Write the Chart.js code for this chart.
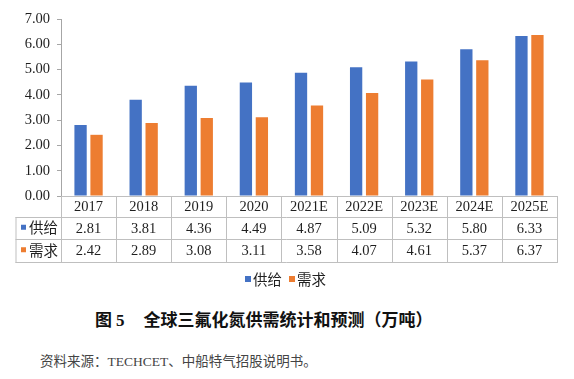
<!DOCTYPE html>
<html>
<head>
<meta charset="utf-8">
<script src="https://cdn.jsdelivr.net/npm/chart.js@4"></script>
<style>
  html, body { margin: 0; padding: 0; background: #fff; }
  #wrap { position: relative; width: 574px; height: 379px; overflow: hidden; }
  #c { position: absolute; left: 0; top: 0; }
  .title { position: absolute; left: 95px; top: 306px; font: bold 17px "Liberation Serif", "Noto Sans CJK SC", serif; color: #111; white-space: nowrap; }
  .title .num { margin-left: 4px; margin-right: 19px; }
  .src { position: absolute; left: 40px; top: 350px; font: 13.5px "Liberation Serif", "Noto Sans CJK SC", serif; color: #444; white-space: nowrap; }
</style>
</head>
<body>
<div id="wrap">
  <canvas id="c" width="574" height="300"></canvas>
  <div class="title">图<span class="num">5</span>全球三氟化氮供需统计和预测（万吨）</div>
  <div class="src">资料来源：TECHCET、中船特气招股说明书。</div>
</div>
<script>
const categories = ['2017', '2018', '2019', '2020', '2021E', '2022E', '2023E', '2024E', '2025E'];
const supply = [2.81, 3.81, 4.36, 4.49, 4.87, 5.09, 5.32, 5.80, 6.33];
const demand = [2.42, 2.89, 3.08, 3.11, 3.58, 4.07, 4.61, 5.37, 6.37];
const seriesNames = ['供给', '需求'];
const colors = ['#4472C4', '#ED7D31'];

const numFont = '14.5px "Liberation Serif", serif';
const cjkFont = '14.5px "Noto Sans CJK SC", sans-serif';
const lineColor = '#bfbfbf';
const textColor = '#1f1f1f';

// 表格 + 图例画在坐标轴下面
const tablePlugin = {
    id: 'dataTable',
    afterDraw(chart) {
        const ctx = chart.ctx;
        const xs = chart.scales.x;
        const n = categories.length;
        const w = (xs.right - xs.left) / n;
        const y0 = chart.chartArea.bottom;
        const y1 = y0 + 20.5;
        const y2 = y1 + 22.5;
        const y3 = y2 + 22.5;
        const tLeft = 15.5;

        ctx.save();
        ctx.strokeStyle = lineColor;
        ctx.lineWidth = 1;
        ctx.beginPath();
        [y1, y2, y3].forEach((y) => {
            ctx.moveTo(tLeft, Math.round(y) + 0.5);
            ctx.lineTo(xs.right, Math.round(y) + 0.5);
        });
        ctx.moveTo(tLeft + 0.5, Math.round(y1));
        ctx.lineTo(tLeft + 0.5, Math.round(y3) + 1);
        for (let k = 0; k <= n; k++) {
            const x = Math.round(xs.left + k * w) + 0.5;
            ctx.moveTo(x, y0);
            ctx.lineTo(x, Math.round(y3) + 1);
        }
        ctx.stroke();

        ctx.fillStyle = textColor;
        ctx.textAlign = 'center';
        ctx.textBaseline = 'middle';
        ctx.font = numFont;
        categories.forEach((c, i) => {
            const cx = xs.getPixelForValue(i);
            ctx.fillText(c, cx, (y0 + y1) / 2 + 1);
            ctx.fillText(supply[i].toFixed(2), cx, (y1 + y2) / 2 + 1);
            ctx.fillText(demand[i].toFixed(2), cx, (y2 + y3) / 2 + 1);
        });

        // 行标题
        ctx.textAlign = 'left';
        ctx.font = cjkFont;
        [(y1 + y2) / 2, (y2 + y3) / 2].forEach((cy, r) => {
            ctx.fillStyle = colors[r];
            ctx.fillRect(21, cy - 3, 5, 5);
            ctx.fillStyle = textColor;
            ctx.fillText(seriesNames[r], 29, cy);
        });

        // 图例
        const ly = 279;
        const lx = [245, 289];
        lx.forEach((x, r) => {
            ctx.fillStyle = colors[r];
            ctx.fillRect(x, ly - 3, 6, 6);
            ctx.fillStyle = textColor;
            ctx.fillText(seriesNames[r], x + 8, ly);
        });
        ctx.restore();
    }
};

new Chart(document.getElementById('c'), {
    type: 'bar',
    data: {
        labels: categories,
        datasets: [{
            label: seriesNames[0],
            data: supply,
            backgroundColor: colors[0],
            categoryPercentage: 0.58,
            barPercentage: 0.77,
        }, {
            label: seriesNames[1],
            data: demand,
            backgroundColor: colors[1],
            categoryPercentage: 0.58,
            barPercentage: 0.77,
        }],
    },
    options: {
        responsive: false,
        animation: false,
        devicePixelRatio: 1,
        layout: { padding: { left: 0, right: 17, top: 19, bottom: 0 } },
        plugins: {
            legend: { display: false },
            tooltip: { enabled: false },
        },
        scales: {
            x: {
                ticks: { display: false },
                grid: { display: false },
                border: { display: true, color: lineColor },
                afterFit: (s) => { s.height = 104; },
            },
            y: {
                min: 0,
                max: 7,
                ticks: {
                    stepSize: 1,
                    padding: 7,
                    color: textColor,
                    font: { family: '"Liberation Serif", serif', size: 14.5 },
                    callback: (v) => Number(v).toFixed(2),
                },
                grid: { drawOnChartArea: false, drawTicks: true, tickLength: 4, color: '#a6a6a6' },
                border: { display: true, color: '#a6a6a6' },
                afterFit: (s) => { s.width = 61; },
            },
        },
    },
    plugins: [tablePlugin],
});
</script>
</body>
</html>
